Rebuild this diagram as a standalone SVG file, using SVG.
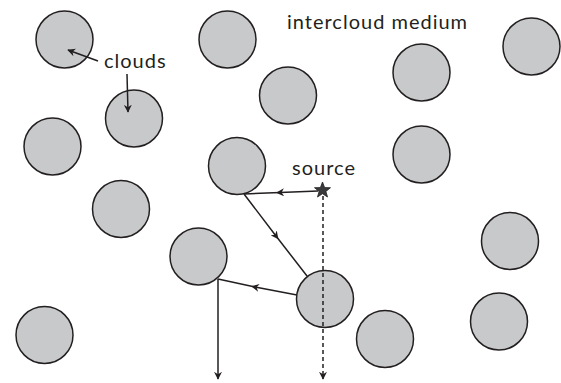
<svg xmlns="http://www.w3.org/2000/svg" width="561" height="383" viewBox="0 0 561 383">
<style>
.cloud{fill:#c8c9cb;stroke:#231f20;stroke-width:1.5}
.lbl{font-family:Lato,"Open Sans",sans-serif;font-size:20px;letter-spacing:1px;fill:#231f20}
.ln{fill:none;stroke:#231f20;stroke-width:1.5}
.dash{stroke-dasharray:4 3}
</style>
<defs>
<marker id="ah" viewBox="0 0 10 10" refX="9" refY="5" markerWidth="8" markerHeight="8" markerUnits="userSpaceOnUse" orient="auto">
<path d="M0,0 L10,5 L0,10 L3,5 Z" fill="#231f20"/>
</marker>
<marker id="am" viewBox="0 0 10 10" refX="5" refY="5" markerWidth="8" markerHeight="8" markerUnits="userSpaceOnUse" orient="auto">
<path d="M0,0 L10,5 L0,10 L3,5 Z" fill="#231f20"/>
</marker>
</defs>
<rect width="561" height="383" fill="#ffffff"/>
<g id="clouds">
<circle id="c1" class="cloud" cx="64.5" cy="39.5" r="28.5"/>
<circle id="c2" class="cloud" cx="227.5" cy="39.5" r="28.5"/>
<circle id="c3" class="cloud" cx="134" cy="118.5" r="28.5"/>
<circle id="c4" class="cloud" cx="52.5" cy="146.5" r="28.5"/>
<circle id="c5" class="cloud" cx="121" cy="209" r="28.5"/>
<circle id="c6" class="cloud" cx="288" cy="95.5" r="28.5"/>
<circle id="c7" class="cloud" cx="421.5" cy="72.5" r="28.5"/>
<circle id="c8" class="cloud" cx="531.5" cy="46.5" r="28.5"/>
<circle id="c9" class="cloud" cx="421.5" cy="154.5" r="28.5"/>
<circle id="c10" class="cloud" cx="237" cy="166" r="28.5"/>
<circle id="c11" class="cloud" cx="198.5" cy="256.5" r="28.5"/>
<circle id="c12" class="cloud" cx="325" cy="299" r="28.5"/>
<circle id="c13" class="cloud" cx="44.5" cy="335" r="28.5"/>
<circle id="c14" class="cloud" cx="385" cy="339" r="28.5"/>
<circle id="c15" class="cloud" cx="510" cy="241" r="28.5"/>
<circle id="c16" class="cloud" cx="499" cy="321.5" r="28.5"/>
</g>
<g id="labels">
<text id="t-medium" class="lbl" x="287" y="29">intercloud medium</text>
<text id="t-clouds" class="lbl" x="104" y="68">clouds</text>
<text id="t-source" class="lbl" x="292" y="175">source</text>
</g>
<g id="connectors">
<path class="ln" d="M98,61 L68,50" marker-end="url(#ah)"/>
<path class="ln" d="M127,74 L128,112" marker-end="url(#ah)"/>
<path class="ln" d="M318,191 L280,192.5 L244,194" marker-mid="url(#am)"/>
<path class="ln" d="M244,194 L276,236 L307,276" marker-mid="url(#am)"/>
<path class="ln" d="M297,295 L255,287 L218,279" marker-mid="url(#am)"/>
<path class="ln" d="M218,279 L218,379" marker-end="url(#ah)"/>
<path class="ln dash" d="M323,196 L323,379" marker-end="url(#ah)"/>
</g>
<g id="source">
<polygon points="322.5,182 324.6,187.6 330.5,187.7 325.9,191.4 327.5,197 322.5,193.7 317.5,197 319.1,191.4 314.5,187.7 320.4,187.6" fill="#3a3a3c" stroke="#231f20" stroke-width="0.8"/>
</g>
</svg>
